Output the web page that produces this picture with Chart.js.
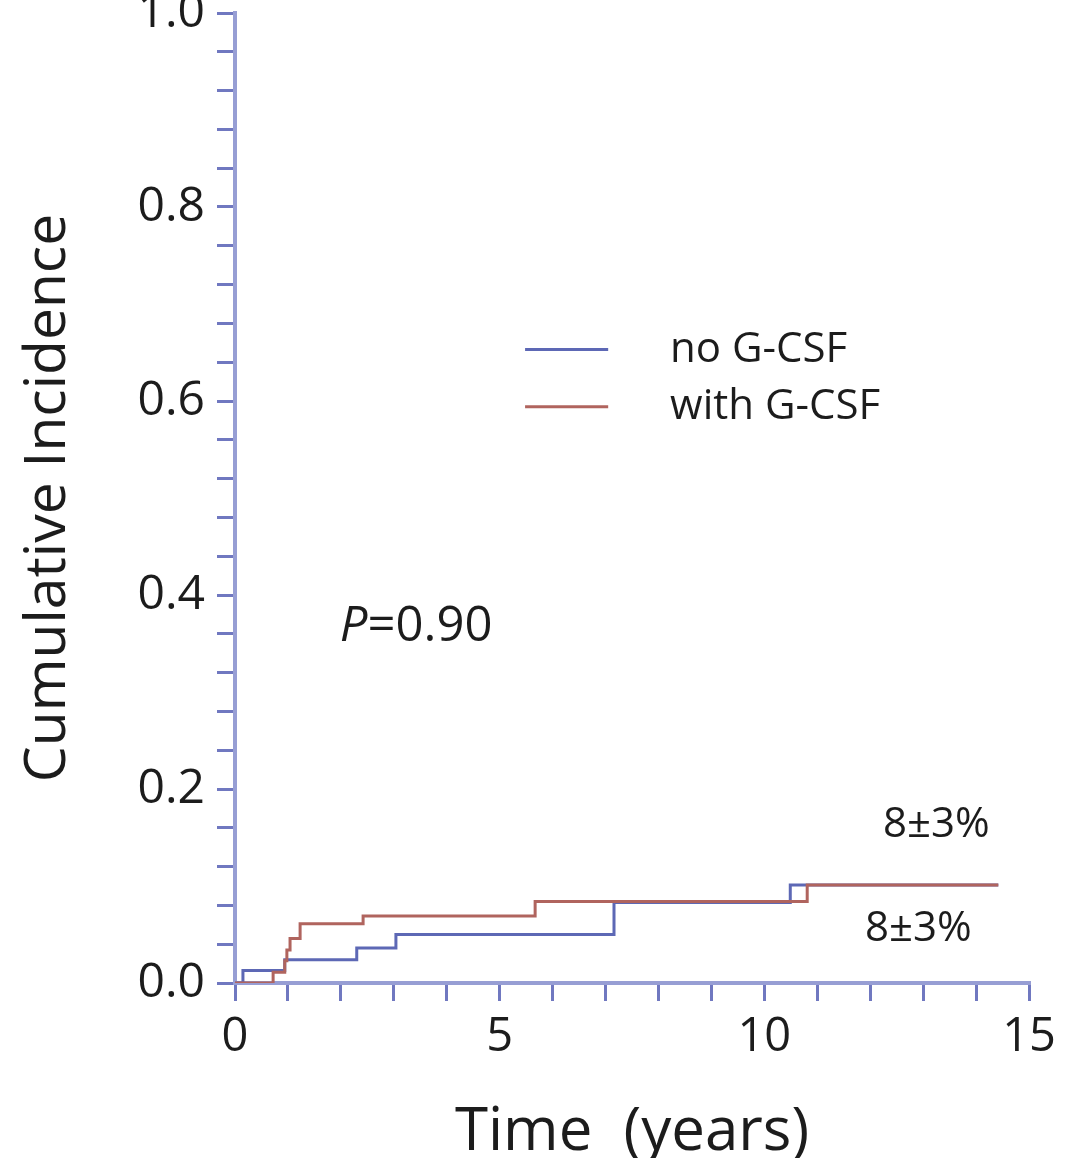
<!DOCTYPE html>
<html>
<head>
<meta charset="utf-8">
<script src="https://cdn.jsdelivr.net/npm/chart.js@4/dist/chart.umd.min.js"></script>
<style>
  html, body { margin: 0; padding: 0; background: #fff; overflow: hidden; }
  #wrap { position: absolute; left: 0; top: -30px; width: 1092px; height: 1200px; }
</style>
</head>
<body>
<div id="wrap"><canvas id="chart"></canvas></div>
<script>
// tempos (anos) e incidência acumulada
const noGcsfTimes = [0, 0.15, 0.94, 2.30, 3.04, 7.16, 10.49, 14.42];
const noGcsfValues = [0, 0.013, 0.024, 0.036, 0.050, 0.083, 0.101, 0.101];
const withGcsfTimes = [0, 0.72, 0.94, 0.98, 1.04, 1.23, 2.42, 5.67, 10.81, 14.42];
const withGcsfValues = [0, 0.011, 0.023, 0.034, 0.046, 0.061, 0.069, 0.084, 0.101, 0.101];

const seriesLabels = ['no G-CSF', 'with G-CSF'];
const endLabels = ['8±3%', '8±3%'];
const pValueText = '=0.90';

const blue = 'rgb(93,104,181)';
const red = 'rgb(176,100,94)';
const textColor = '#1c1c1c';
const fontFamily = "'Open Sans', 'Noto Sans', sans-serif";

function toPoints(times, values) {
    return times.map((t, i) => ({ x: t, y: values[i] }));
}

// legenda, valor P e rótulos finais desenhados sobre o gráfico
const annotations = {
    id: 'annotations',
    afterDraw(chart) {
        const ctx = chart.ctx;
        const xs = chart.scales.x, ys = chart.scales.y;
        ctx.save();
        ctx.textBaseline = 'middle';
        ctx.fillStyle = textColor;

        // legenda
        const legend = [[seriesLabels[0], blue, 0.653], [seriesLabels[1], red, 0.594]];
        legend.forEach(([label, color, yv]) => {
            const y = ys.getPixelForValue(yv);
            ctx.strokeStyle = color;
            ctx.lineWidth = 3;
            ctx.beginPath();
            ctx.moveTo(xs.getPixelForValue(5.48), y);
            ctx.lineTo(xs.getPixelForValue(7.05), y);
            ctx.stroke();
            ctx.font = '42px ' + fontFamily;
            ctx.fillText(label, xs.getPixelForValue(8.22), y);
        });

        // P valor
        const px = xs.getPixelForValue(1.98), py = ys.getPixelForValue(0.367);
        ctx.font = 'italic 49px ' + fontFamily;
        ctx.fillText('P', px, py);
        const pw = ctx.measureText('P').width;
        ctx.font = '49px ' + fontFamily;
        ctx.fillText(pValueText, px + pw, py);

        // rótulos 8±3%
        ctx.font = '42px ' + fontFamily;
        ctx.fillText(endLabels[0], xs.getPixelForValue(12.24), ys.getPixelForValue(0.163));
        ctx.fillText(endLabels[1], xs.getPixelForValue(11.9), ys.getPixelForValue(0.056));
        ctx.restore();
    }
};

const ctx = document.getElementById('chart').getContext('2d');
new Chart(ctx, {
    type: 'line',
    data: {
        datasets: [{
            label: seriesLabels[1],
            data: toPoints(withGcsfTimes, withGcsfValues),
            borderColor: red,
            borderWidth: 3,
            stepped: 'before',
            pointRadius: 0,
            fill: false
        }, {
            label: seriesLabels[0],
            data: toPoints(noGcsfTimes, noGcsfValues),
            borderColor: blue,
            borderWidth: 3,
            stepped: 'before',
            pointRadius: 0,
            fill: false
        }]
    },
    options: {
        responsive: true,
        maintainAspectRatio: false,
        animation: false,
        layout: { padding: { left: 0, right: 63, top: 43, bottom: 0 } },
        plugins: {
            legend: { display: false },
            tooltip: { enabled: false }
        },
        scales: {
            x: {
                type: 'linear',
                min: 0,
                max: 15,
                afterFit: (scale) => { scale.height = 187; },
                border: { color: '#979ed4', width: 4 },
                grid: { drawOnChartArea: false, drawTicks: true, tickLength: 18, color: '#7078c0', lineWidth: 3 },
                ticks: {
                    stepSize: 1,
                    autoSkip: false,
                    maxRotation: 0,
                    padding: 8,
                    color: textColor,
                    font: { family: fontFamily, size: 47 },
                    callback: (v) => (v % 5 === 0 ? String(v) : '')
                },
                title: {
                    display: true,
                    text: 'Time  (years)',
                    color: textColor,
                    font: { family: fontFamily, size: 60 },
                    padding: { top: 0, bottom: 1 }
                }
            },
            y: {
                type: 'linear',
                min: 0,
                max: 1,
                afterFit: (scale) => { scale.width = 235; },
                border: { color: '#979ed4', width: 4 },
                grid: { drawOnChartArea: false, drawTicks: true, tickLength: 18, color: '#7078c0', lineWidth: 3 },
                ticks: {
                    stepSize: 0.04,
                    maxTicksLimit: 100,
                    autoSkip: false,
                    padding: 12,
                    color: textColor,
                    font: { family: fontFamily, size: 48 },
                    callback: (v) => {
                        const k = v * 5;
                        return Math.abs(k - Math.round(k)) < 1e-6 ? v.toFixed(1) : '';
                    }
                },
                title: {
                    display: true,
                    text: 'Cumulative Incidence',
                    color: textColor,
                    font: { family: fontFamily, size: 57 },
                    padding: { top: 15, bottom: 0 }
                }
            }
        }
    },
    plugins: [annotations]
});
</script>
</body>
</html>
